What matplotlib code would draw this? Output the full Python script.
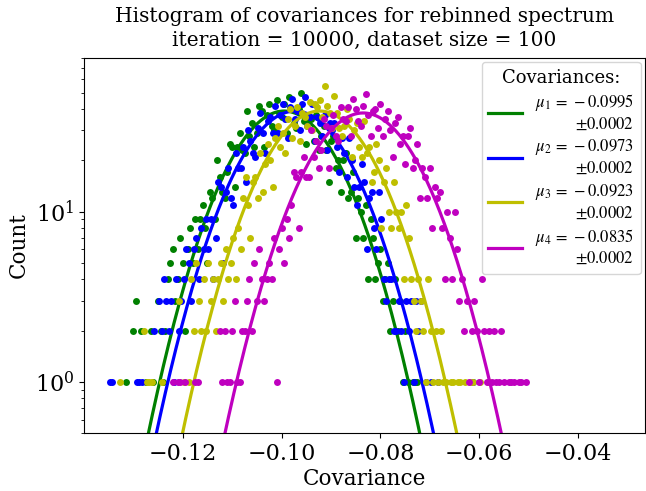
import numpy as np
import matplotlib.pyplot as plt

plt.rcParams['font.family'] = 'DejaVu Serif'
plt.rcParams['mathtext.fontset'] = 'dejavuserif'

# histogram bin width and first bin centre of each run
bin_width = 0.0005
first_bins = [-0.1315, -0.1348, -0.1328, -0.1220]

mus = [-0.0995, -0.0973, -0.0923, -0.0835]
mu_errs = [0.0002, 0.0002, 0.0002, 0.0002]
sigmas = [0.0093, 0.0095, 0.0094, 0.0095]
amps = [39, 39, 39, 38]
colors = ['g', 'b', 'y', 'm']

# counts per bin
counts_1 = [1, 0, 0, 2, 3, 0, 2, 0, 1, 0,
            2, 1, 0, 3, 2, 1, 2, 4, 5, 6,
            3, 4, 7, 5, 2, 6, 8, 5, 9, 6,
            9, 11, 8, 5, 13, 12, 9, 20, 16, 13,
            12, 17, 25, 24, 14, 24, 29, 23, 22, 39,
            28, 33, 24, 29, 42, 39, 24, 37, 43, 32,
            30, 45, 38, 36, 43, 29, 47, 40, 33, 31,
            40, 50, 34, 25, 35, 35, 26, 37, 23, 28,
            32, 23, 15, 26, 28, 18, 20, 13, 20, 22,
            12, 13, 17, 7, 12, 10, 7, 11, 4, 9,
            7, 4, 5, 6, 3, 4, 5, 2, 3, 4,
            2, 3, 1, 2, 1, 0, 1, 1, 1]
counts_2 = [1, 1, 0, 0, 0, 0, 0, 0, 0, 0,
            0, 1, 1, 1, 0, 0, 0, 0, 2, 0,
            3, 2, 4, 3, 2, 3, 1, 4, 2, 3,
            4, 6, 5, 3, 6, 7, 4, 8, 6, 9,
            6, 9, 4, 7, 15, 14, 5, 13, 18, 12,
            11, 22, 18, 18, 24, 15, 30, 26, 22, 21,
            31, 38, 29, 22, 34, 36, 29, 42, 29, 37,
            43, 35, 27, 41, 46, 35, 39, 30, 43, 47,
            32, 36, 43, 26, 36, 33, 28, 37, 23, 33,
            30, 33, 24, 17, 27, 22, 16, 27, 20, 14,
            11, 14, 19, 15, 6, 12, 13, 8, 6, 13,
            9, 4, 3, 4, 4, 2, 2, 3, 2, 1,
            3, 2, 3, 1, 3, 2, 3, 0, 1, 0,
            1, 0, 0, 1, 0, 0, 0, 0, 0, 0,
            0, 0, 0, 0, 0, 0, 0, 1]
counts_3 = [1, 0, 0, 0, 0, 0, 0, 0, 0, 0,
            2, 1, 1, 1, 0, 0, 0, 1, 0, 0,
            0, 0, 0, 0, 3, 0, 1, 0, 1, 4,
            2, 5, 3, 2, 4, 2, 5, 3, 4, 2,
            4, 5, 3, 6, 4, 5, 7, 4, 8, 6,
            12, 16, 11, 7, 15, 16, 12, 22, 13, 19,
            25, 20, 14, 27, 32, 24, 29, 22, 35, 40,
            27, 32, 41, 26, 38, 36, 32, 44, 30, 43,
            41, 45, 36, 55, 42, 38, 31, 48, 38, 31,
            28, 32, 40, 35, 21, 30, 33, 24, 21, 34,
            22, 24, 15, 17, 25, 20, 8, 15, 18, 10,
            8, 15, 10, 8, 10, 4, 11, 7, 4, 3,
            2, 4, 3, 2, 1, 4, 2, 1, 2, 1,
            2, 1, 1, 0, 1, 1, 0, 1, 1, 0,
            1, 0, 1, 1, 0, 0, 1, 0, 0, 1,
            1]
counts_4 = [1, 0, 1, 1, 0, 1, 0, 0, 0, 1,
            1, 0, 0, 0, 0, 0, 0, 0, 0, 2,
            1, 2, 1, 1, 2, 3, 1, 1, 2, 2,
            3, 4, 2, 5, 3, 6, 4, 3, 4, 5,
            4, 7, 1, 6, 8, 5, 9,
            7, 11, 17, 16, 8, 17, 21, 16, 16, 30,
            21, 26, 18, 23, 35, 32, 18, 31, 37, 28,
            26, 41, 35, 34, 41, 28, 46, 40, 34, 32,
            42, 49, 37, 28, 39, 40, 31, 43, 28, 35,
            39, 30, 21, 33, 36, 25, 28, 19, 28, 31,
            18, 20, 25, 12, 18, 16, 12, 18, 8, 14,
            12, 13, 8, 4, 10, 7, 4, 10, 6, 3,
            4, 2, 3, 1, 2, 3, 2, 1, 4, 2,
            1, 2, 1, 2, 1, 1, 2, 1, 0, 1,
            1, 1, 0, 1, 1, 0, 1]
all_counts = [counts_1, counts_2, counts_3, counts_4]

fig = plt.figure(figsize=(6.46, 4.91), dpi=100)
ax = fig.add_axes([0.130, 0.118, 0.868, 0.764])

xfit = np.linspace(-0.15, -0.02, 600)
for i in range(4):
    c = np.array(all_counts[i], dtype=float)
    x = first_bins[i] + bin_width*np.arange(len(c))
    keep = c > 0
    ax.plot(x[keep], c[keep], 'o', color=colors[i], ms=5, mec='none')
    yfit = amps[i]*np.exp(-(xfit - mus[i])**2/(2*sigmas[i]**2))
    label = (rf'$\mu_{i+1}\,=\,-{abs(mus[i]):.4f}$' + '\n'
             + rf'$\pm{mu_errs[i]:.4f}$')
    ax.plot(xfit, yfit, '-', color=colors[i], lw=2.3, label=label)

ax.set_yscale('log')
ax.set_xlim(-0.14, -0.0265)
ax.set_ylim(0.5, 80)
ax.set_xticks([-0.12, -0.10, -0.08, -0.06, -0.04])
ax.tick_params(labelsize=16)
ax.set_xlabel('Covariance', fontsize=15.5, labelpad=2)
ax.set_ylabel('Count', fontsize=15.5)
ax.set_title('Histogram of covariances for rebinned spectrum\n'
             'iteration = 10000, dataset size = 100', fontsize=14.5,
             linespacing=1.3, pad=9)

leg = ax.legend(loc='upper right', title='Covariances:', borderaxespad=0.25,
                labelspacing=0.3, title_fontsize=13,
                prop={'size': 12, 'math_fontfamily': 'stix'})
for t in leg.get_texts():
    t.set_multialignment('right')

fig.savefig('out.png', dpi=100)
